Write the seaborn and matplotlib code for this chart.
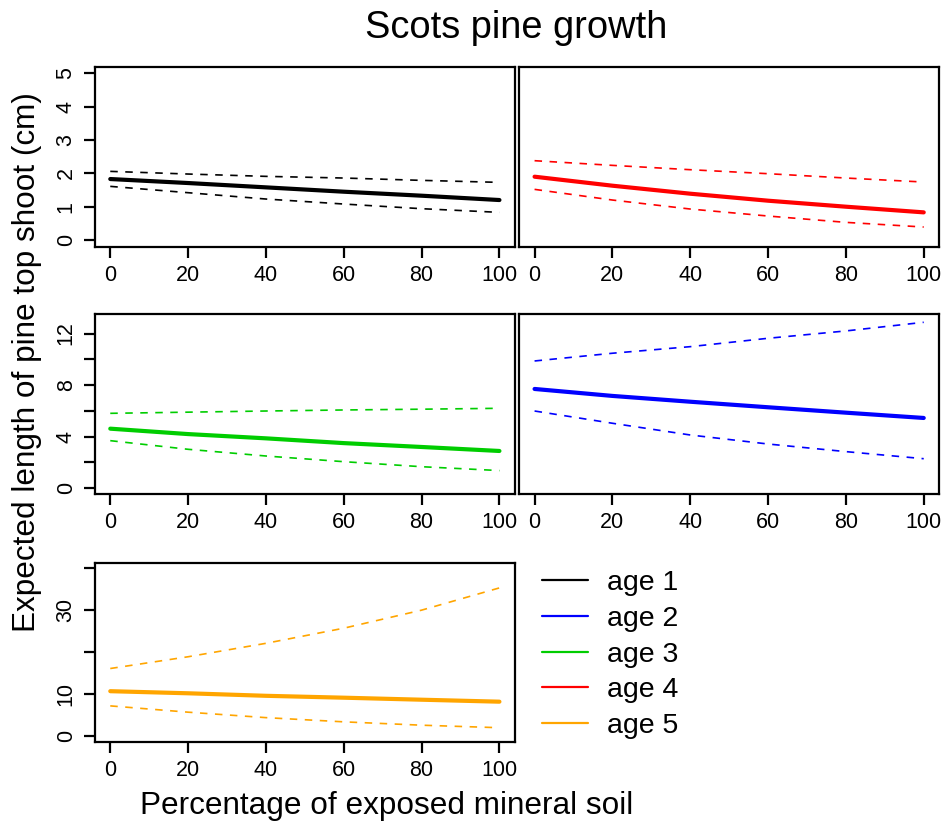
import matplotlib
matplotlib.use("Agg")
import matplotlib.pyplot as plt
from matplotlib.lines import Line2D
import seaborn as sns
import pandas as pd

# ---- data ----
pct = [0, 20, 40, 60, 80, 100]

age1_fit = [1.83, 1.71, 1.58, 1.45, 1.33, 1.20]
age1_lo = [1.61, 1.42, 1.23, 1.08, 0.94, 0.83]
age1_hi = [2.06, 1.98, 1.91, 1.86, 1.79, 1.73]

age2_fit = [7.70, 7.16, 6.71, 6.28, 5.86, 5.45]
age2_lo = [5.99, 5.04, 4.13, 3.43, 2.84, 2.29]
age2_hi = [9.87, 10.47, 10.98, 11.63, 12.20, 12.87]

age3_fit = [4.62, 4.20, 3.87, 3.50, 3.20, 2.89]
age3_lo = [3.69, 3.02, 2.50, 2.06, 1.67, 1.37]
age3_hi = [5.81, 5.90, 5.99, 6.07, 6.13, 6.20]

age4_fit = [1.90, 1.63, 1.39, 1.18, 1.00, 0.83]
age4_lo = [1.52, 1.20, 0.93, 0.72, 0.53, 0.39]
age4_hi = [2.38, 2.24, 2.11, 1.99, 1.86, 1.74]

age5_fit = [10.6, 10.1, 9.5, 9.05, 8.57, 8.1]
age5_lo = [7.1, 5.6, 4.3, 3.3, 2.5, 1.9]
age5_hi = [16.0, 18.8, 22.0, 25.6, 29.9, 35.2]

age_labels = ["age 1", "age 2", "age 3", "age 4", "age 5"]
age_colors = ["#000000", "#0000FF", "#00CD00", "#FF0000", "#FFA500"]

x_ticks = [0, 20, 40, 60, 80, 100]
row1_yticks = [0, 1, 2, 3, 4, 5]
row1_ylabels = ["0", "1", "2", "3", "4", "5"]
row2_yticks = [0, 2, 4, 6, 8, 10, 12]
row2_ylabels = ["0", "", "4", "", "8", "", "12"]
row3_yticks = [0, 10, 20, 30, 40]
row3_ylabels = ["0", "10", "", "30", ""]

title = "Scots pine growth"
xlabel = "Percentage of exposed mineral soil"
ylabel = "Expected length of pine top shoot (cm)"

# ---- style ----
sns.set_theme(style="ticks")
plt.rcParams["font.family"] = ["Liberation Sans", "DejaVu Sans"]
plt.rcParams["text.color"] = "black"

W, H = 946, 823
fig = plt.figure(figsize=(W / 100, H / 100), dpi=100)
TICK_FS = 15.5


def box(x0, y0, x1, y1):
    return [x0 / W, 1 - y1 / H, (x1 - x0) / W, (y1 - y0) / H]


def panel(rect, fit, lo, hi, color, ylim, yticks, ylabels, show_y=True):
    ax = fig.add_axes(rect)
    df = pd.DataFrame({"pct": pct, "fit": fit, "lo": lo, "hi": hi})
    sns.lineplot(data=df, x="pct", y="fit", ax=ax, color=color, lw=3.0)
    for col in ["lo", "hi"]:
        sns.lineplot(data=df, x="pct", y=col, ax=ax, color=color, lw=1.2,
                     dashes=False, linestyle=(0, (4.5, 4.5)))
    ax.set_xlim(-4, 104)
    ax.set_ylim(*ylim)
    ax.set_xticks(x_ticks)
    ax.set_xticklabels([str(v) for v in x_ticks])
    ax.tick_params(axis="x", length=8, width=1.6, pad=5, labelsize=TICK_FS,
                   color="black", labelcolor="black")
    if show_y:
        ax.set_yticks(yticks)
        ax.set_yticklabels(ylabels, rotation=90, va="center")
        ax.tick_params(axis="y", length=8, width=1.6, pad=5, labelsize=TICK_FS,
                       color="black", labelcolor="black")
    else:
        ax.set_yticks([])
    ax.set_xlabel("")
    ax.set_ylabel("")
    for s in ax.spines.values():
        s.set_visible(True)
        s.set_color("black")
        s.set_linewidth(1.6)
    ax.grid(False)
    return ax


panel(box(94.7, 66.7, 515, 246.7), age1_fit, age1_lo, age1_hi, age_colors[0],
      (-0.2, 5.2), row1_yticks, row1_ylabels)
panel(box(519, 66.7, 939.3, 246.7), age4_fit, age4_lo, age4_hi, age_colors[3],
      (-0.2, 5.2), row1_yticks, row1_ylabels, show_y=False)
panel(box(94.7, 314.3, 515, 494.3), age3_fit, age3_lo, age3_hi, age_colors[2],
      (-0.47, 13.49), row2_yticks, row2_ylabels)
panel(box(519, 314.3, 939.3, 494.3), age2_fit, age2_lo, age2_hi, age_colors[1],
      (-0.47, 13.49), row2_yticks, row2_ylabels, show_y=False)
panel(box(94.7, 562.7, 515, 741.7), age5_fit, age5_lo, age5_hi, age_colors[4],
      (-1.43, 41.2), row3_yticks, row3_ylabels)

handles = [Line2D([], [], color=c, lw=1.6) for c in age_colors]
fig.legend(handles, age_labels, loc="upper left",
           bbox_to_anchor=(531 / W, 1 - 559 / H), frameon=False,
           fontsize=20.5, handlelength=1.6, handletextpad=0.68,
           labelspacing=0.34, borderaxespad=0)

fig.text(516.5 / W, 1 - 28 / H, title, ha="center", va="center", fontsize=27.4)
fig.text(386.5 / W, 1 - 806 / H, xlabel, ha="center", va="center", fontsize=22.7)
fig.text(27.5 / W, 1 - 362.5 / H, ylabel, ha="center", va="center",
         fontsize=22.7, rotation=90)

fig.savefig("out.png", dpi=100)
